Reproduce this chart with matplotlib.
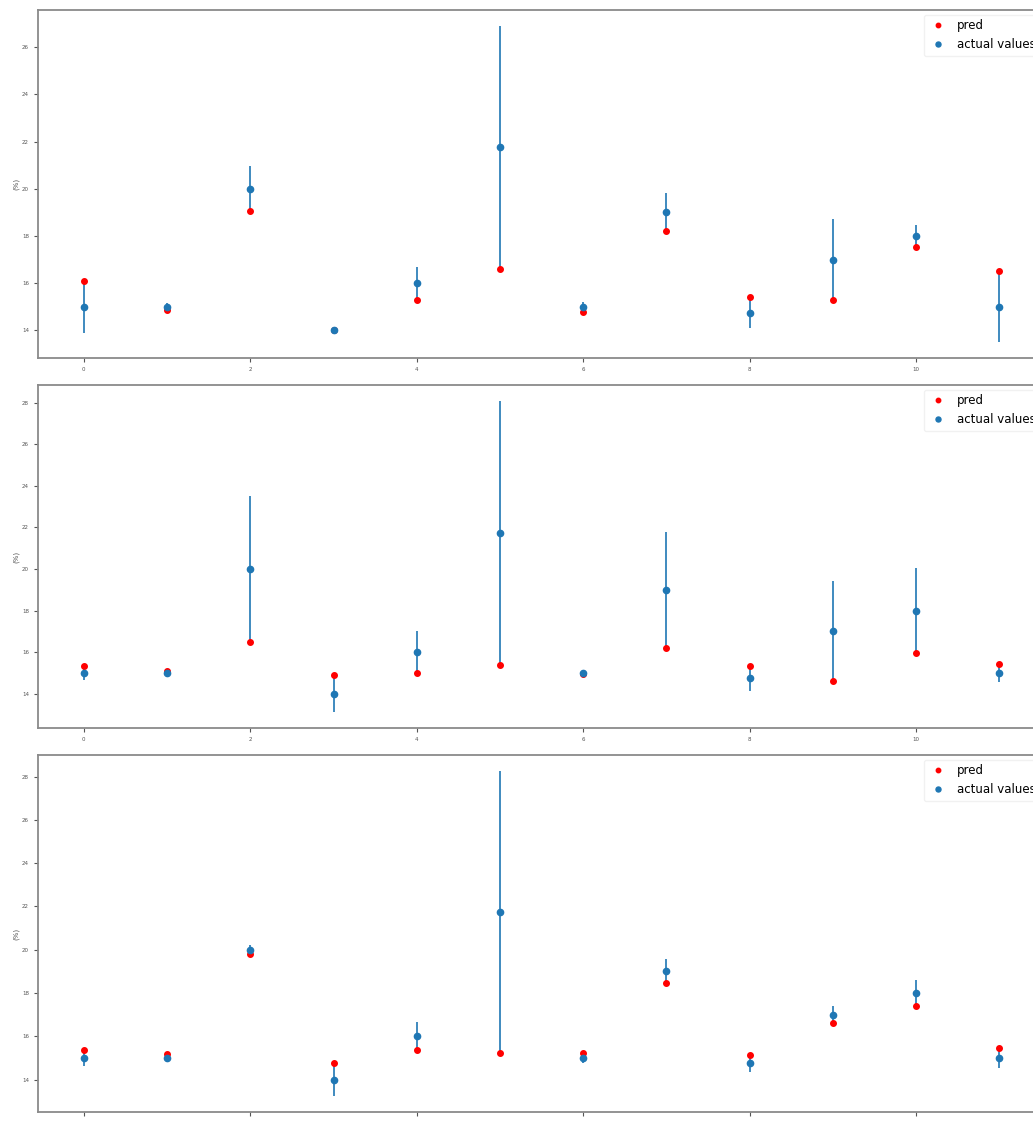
import matplotlib.pyplot as plt
import numpy as np

# Data (index 0..11)
idx = np.arange(12)
actual = [15, 15, 20, 14, 16, 21.75, 15, 19, 14.75, 17, 18, 15]

pred_1 = [16.1, 14.85, 19.05, 14.0, 15.3, 16.6, 14.8, 18.2, 15.4, 15.3, 17.55, 16.5]
pred_2 = [15.35, 15.1, 16.5, 14.9, 15.0, 15.4, 14.95, 16.2, 15.35, 14.6, 15.95, 15.45]
pred_3 = [15.35, 15.2, 19.8, 14.75, 15.35, 15.25, 15.25, 18.45, 15.15, 16.6, 17.4, 15.45]

preds = [pred_1, pred_2, pred_3]

blue = '#1f77b4'
fig = plt.figure(figsize=(10.33, 11.21), dpi=100)

# axes boxes (left, bottom, width, height) - right edge runs past the figure like the source
boxes = [(0.0368, 0.6806, 0.975, 0.3105),
         (0.0368, 0.3506, 0.975, 0.3060),
         (0.0368, 0.0080, 0.975, 0.3185)]

for box, pred in zip(boxes, preds):
    ax = fig.add_axes(box)
    err = np.abs(np.array(pred) - np.array(actual))
    ax.errorbar(idx, actual, yerr=err, fmt='none', ecolor=blue, elinewidth=1.2)
    ax.plot(idx, pred, 'o', color='red', markersize=4, label='pred')
    ax.plot(idx, actual, 'o', color=blue, markersize=4.5, label='actual values')
    ax.set_xticks([0, 2, 4, 6, 8, 10])
    ax.tick_params(labelsize=4, colors='#555555', length=3)
    for s in ax.spines.values():
        s.set_color('#8a8a8a')
        s.set_linewidth(1.3)
    ax.set_ylabel('(%)', fontsize=5, color='#555555', labelpad=2)
    ax.legend(loc='upper right', fontsize=8.5, frameon=True, edgecolor='#eeeeee',
              markerscale=0.8, handlelength=1.6, handletextpad=0.8, borderaxespad=0.4)

plt.savefig('out.png', dpi=100)
